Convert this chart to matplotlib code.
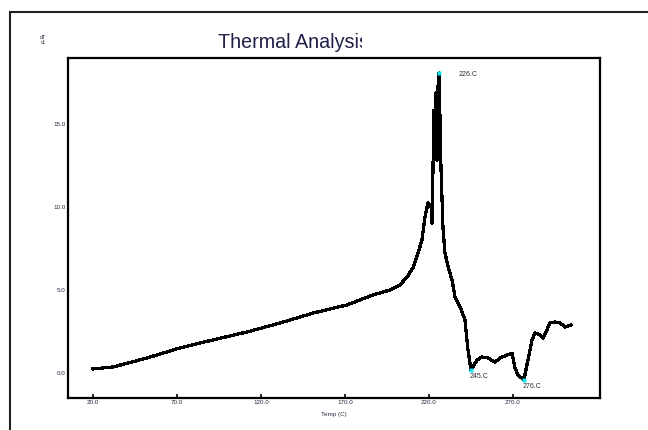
import matplotlib
matplotlib.use('Agg')
import matplotlib.pyplot as plt
from matplotlib.patches import Rectangle
from matplotlib.transforms import Bbox

plt.rcParams['font.family'] = ['Liberation Sans', 'DejaVu Sans']

# temperature (C) and rate readings
temp = [20.0, 31.9, 52.1, 71.8, 91.4, 111.7, 131.3, 151.0, 171.2, 186.7,
        196.8, 202.7, 206.9, 210.5, 213.5, 215.8, 217.6, 219.4, 221.2, 221.8,
        223.0, 223.6, 224.2, 224.8, 225.4, 226.0, 227.1, 228.3, 229.5, 231.9,
        233.7, 235.5, 238.5, 241.4, 243.2, 245.0, 248.6, 251.5, 255.1, 259.3,
        262.3, 266.4, 269.4, 271.2, 273.0, 276.5, 278.9, 281.3, 283.1, 286.1,
        287.9, 290.2, 292.0, 295.0, 298.0, 301.0, 304.5]
rate = [0.24, 0.36, 0.90, 1.51, 1.99, 2.47, 3.01, 3.61, 4.10, 4.70,
        5.00, 5.30, 5.78, 6.33, 7.23, 8.01, 9.40, 10.24, 10.06, 9.04,
        15.84, 13.40, 16.90, 12.80, 17.30, 18.07, 12.50, 8.80, 7.23, 6.20,
        5.60, 4.58, 3.98, 3.19, 1.39, 0.18, 0.78, 0.96, 0.90, 0.66,
        0.90, 1.08, 1.20, 0.30, -0.12, -0.42, 0.78, 1.99, 2.41, 2.29,
        2.11, 2.59, 3.01, 3.07, 3.01, 2.77, 2.89]

# peak and the two minima, with label offsets in points
marked = [25, 35, 45]
label_off = [(14, -1), (-1, -5), (-1, -5)]

xticks = [20, 70, 120, 170, 220, 270]
yticks = [0, 5, 10, 15]

fig = plt.figure(figsize=(6.48, 4.30), dpi=100)
ax = fig.add_axes([68 / 648, 1 - 398 / 430, 532 / 648, 340 / 430])

ax.plot(temp, rate, color='black', lw=1.6, antialiased=False)
for i, off in zip(marked, label_off):
    ax.plot(temp[i], rate[i], 's', color='#19e0f0', ms=2.5, mec='none', zorder=3)
    ax.annotate('%d.C' % round(temp[i]), (temp[i], rate[i]), xytext=off,
                textcoords='offset points', fontsize=5, color='#303030',
                va='center', ha='left')

ax.set_xlim(5.1, 321.8)
ax.set_ylim(-1.51, 18.98)
ax.set_xticks(xticks)
ax.set_yticks(yticks)
ax.set_xticklabels(['%.1f' % t for t in xticks], fontsize=4.5, color='#282840')
ax.set_yticklabels(['%.1f' % t for t in yticks], fontsize=4.5, color='#282840')
ax.tick_params(axis='x', direction='in', length=3, width=1.2, pad=1.5)
ax.tick_params(axis='y', length=0, pad=2)
for s in ax.spines.values():
    s.set_linewidth(1.6)
ax.set_xlabel('Temp (C)', fontsize=4.5, color='#282840', labelpad=5)

# outer frame, open at right and bottom
fig.add_artist(Rectangle((10 / 648, -0.1), 1.0, 1 - 12 / 430 + 0.1,
                         transform=fig.transFigure, fill=False,
                         ec='#202020', lw=1.5))

title = fig.text(218 / 648, 1 - 43 / 430, 'Thermal Analysis', fontsize=14.2,
                 color='#202048', va='center', ha='left')
title.set_clip_box(Bbox.from_extents(0, 0, 362, 430))
title.set_clip_on(True)

fig.text(43 / 648, 1 - 40 / 430, 'dT\ndt', fontsize=4, color='#282840',
         va='center', ha='center', linespacing=1.1)

fig.savefig('out.png', dpi=100)
